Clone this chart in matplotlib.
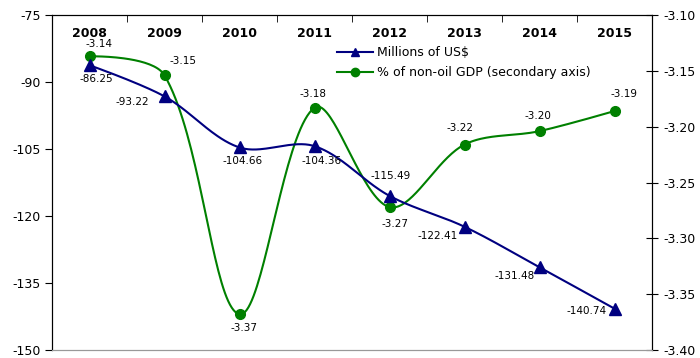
import numpy as np
import matplotlib.pyplot as plt

plt.rcParams['font.family'] = ['DejaVu Sans']
plt.rcParams['axes.unicode_minus'] = False

years = ['2008', '2009', '2010', '2011', '2012', '2013', '2014', '2015']
usd = [-86.25, -93.22, -104.66, -104.36, -115.49, -122.41, -131.48, -140.74]
pct_gdp = [-3.137, -3.154, -3.368, -3.183, -3.272, -3.216, -3.204, -3.186]

# label offsets in points (dx, dy)
usd_off = [(5, -10), (-23, -4), (2, -10), (5, -11), (1, 14), (-19, -7), (-18, -6), (-20, -2)]
pct_off = [(7, 9), (13, 10), (3, -10), (-1, 10), (4, -12), (-3, 12), (-1, 11), (7, 12)]

BLUE = '#000080'
GREEN = '#008000'

# plot area in pixels
L, R, T, B = 52, 652, 15, 350
W, H = 600, B - T


def smooth(x, y, kx, ky, n=40):
    # bezier smoothing with tangents weighted by neighbouring segment lengths,
    # worked out in pixel space (kx, ky = pixels per data unit)
    px = np.asarray(x, float) * kx
    py = np.asarray(y, float) * ky
    pts = np.column_stack([px, py])
    m = len(pts)
    cin = pts.copy()
    cout = pts.copy()
    for i in range(1, m - 1):
        d = pts[i + 1] - pts[i - 1]
        a = np.hypot(*(pts[i] - pts[i - 1]))
        b = np.hypot(*(pts[i + 1] - pts[i]))
        cin[i] = pts[i] - d * a / (a + b) / 3
        cout[i] = pts[i] + d * b / (a + b) / 3
    t = np.linspace(0, 1, n)[:, None]
    out = []
    for i in range(m - 1):
        p0, p1, p2, p3 = pts[i], cout[i], cin[i + 1], pts[i + 1]
        out.append((1 - t) ** 3 * p0 + 3 * (1 - t) ** 2 * t * p1
                   + 3 * (1 - t) * t ** 2 * p2 + t ** 3 * p3)
    out = np.vstack(out)
    return out[:, 0] / kx, out[:, 1] / ky


fig = plt.figure(figsize=(7, 3.58), dpi=100)
ax = fig.add_axes([L / 700, (358 - B) / 358, W / 700, H / 358])
ax2 = ax.twinx()

x = np.arange(len(years))
kx = W / len(years)

sx, sy = smooth(x, usd, kx, H / 75)
ax.plot(sx, sy, color=BLUE, lw=1.5, zorder=3)
l1, = ax.plot(x, usd, ls='none', marker='^', ms=8, color=BLUE, zorder=4)

gx, gy = smooth(x, pct_gdp, kx, H / 0.30)
ax2.plot(gx, gy, color=GREEN, lw=1.5, zorder=3)
l2, = ax2.plot(x, pct_gdp, ls='none', marker='o', ms=7, color=GREEN, zorder=4)

for xi, v, off in zip(x, usd, usd_off):
    ax.annotate(f'{v:.2f}', (xi, v), xytext=off, textcoords='offset points',
                ha='center', va='center', fontsize=7.5)
for xi, v, off in zip(x, pct_gdp, pct_off):
    ax2.annotate(f'{v:.2f}', (xi, v), xytext=off, textcoords='offset points',
                 ha='center', va='center', fontsize=7.5)

ax.set_xlim(-0.5, len(years) - 0.5)
ax.set_ylim(-150, -75)
ax.set_yticks(np.arange(-150, -74, 15))
ax2.set_ylim(-3.40, -3.10)
rt = np.arange(-3.40, -3.099, 0.05)
ax2.set_yticks(rt)
ax2.set_yticklabels([f'{v:.2f}' for v in rt])

ax.set_xticks(x)
ax.set_xticklabels(years, fontweight='bold', fontsize=9)
ax.set_xticks(np.arange(-0.5, len(years)), minor=True)
ax.tick_params(axis='x', which='major', top=True, bottom=False, labeltop=True,
               labelbottom=False, length=0, pad=-18)
ax.tick_params(axis='x', which='minor', top=True, bottom=False, direction='in', length=5)
ax.tick_params(axis='y', direction='out', length=5, labelsize=9, pad=3)
ax2.tick_params(axis='y', direction='inout', length=9, labelsize=9, pad=4)

for a in (ax, ax2):
    a.spines['bottom'].set_color('#999999')
    a.spines['top'].set_color('black')
    a.spines['left'].set_color('black')
    a.spines['right'].set_color('black')

ax.set_zorder(ax2.get_zorder() + 1)
ax.patch.set_visible(False)

leg = ax.legend([l1, l2], ['Millions of US$', '% of non-oil GDP (secondary axis)'],
                loc='upper left', bbox_to_anchor=(285 / W, 1 - 31 / H), frameon=False,
                fontsize=9, handlelength=2.9, handletextpad=0.3, labelspacing=0.55,
                borderaxespad=0, borderpad=0)
for h, c in zip(leg.legend_handles, (BLUE, GREEN)):
    h.set_linestyle('-')
    h.set_color(c)
    h.set_markersize(6)

fig.savefig('out.png')
